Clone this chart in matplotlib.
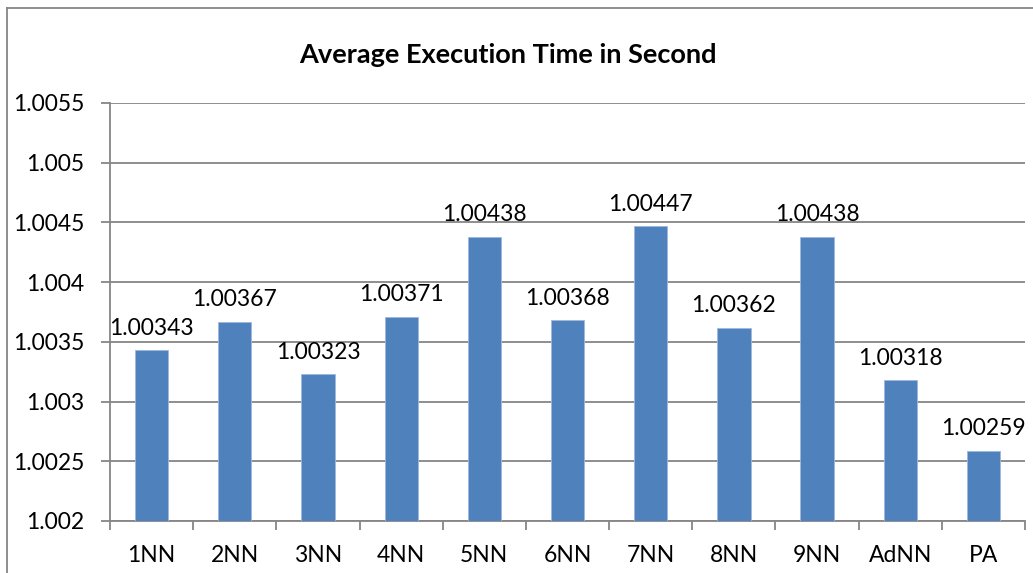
import matplotlib.pyplot as plt
from matplotlib.lines import Line2D

plt.rcParams['font.family'] = ['Lato', 'DejaVu Sans']

categorias = ['1NN', '2NN', '3NN', '4NN', '5NN', '6NN', '7NN', '8NN', '9NN', 'AdNN', 'PA']
tiempos = [1.00343, 1.00367, 1.00323, 1.00371, 1.00438, 1.00368, 1.00447, 1.00362, 1.00438, 1.00318, 1.00259]
etiquetas = ['1.00343', '1.00367', '1.00323', '1.00371', '1.00438', '1.00368',
             '1.00447', '1.00362', '1.00438', '1.00318', '1.00259']
y_ticks = [1.002, 1.0025, 1.003, 1.0035, 1.004, 1.0045, 1.005, 1.0055]

gris = '#868686'
azul = '#4F81BD'

fig = plt.figure(figsize=(10.33, 5.73), dpi=100)
ax = fig.add_axes([110 / 1033, 1 - 521 / 573, (1025 - 110) / 1033, (521 - 103) / 573])

x = list(range(len(categorias)))
ax.bar(x, [t - y_ticks[0] for t in tiempos], bottom=y_ticks[0], width=0.4,
       color=azul, edgecolor='#9DB9DD', linewidth=0.6, zorder=3)

for xi, t, txt in zip(x, tiempos, etiquetas):
    ax.annotate(txt, (xi, t), xytext=(0, 11), textcoords='offset points',
                ha='center', va='baseline', fontsize=16.5, color='black')

ax.set_xlim(-0.5, len(categorias) - 0.5)
ax.set_ylim(y_ticks[0], y_ticks[-1])
ax.set_yticks(y_ticks)
ax.set_yticklabels([f"{v:g}" for v in y_ticks], fontsize=16.5)
ax.set_xticks(x)
ax.set_xticklabels(categorias, fontsize=16.5)
ax.set_xticks([i - 0.5 for i in range(len(categorias) + 1)], minor=True)

ax.tick_params(axis='x', which='major', length=0, pad=17)
ax.tick_params(axis='x', which='minor', length=6.5, width=1.3, color=gris, direction='out')
ax.tick_params(axis='y', length=6.5, width=1.3, color=gris, direction='out', pad=12)

ax.grid(axis='y', color=gris, linewidth=1.3, zorder=0)
ax.set_axisbelow(True)
for lado in ['top', 'right']:
    ax.spines[lado].set_visible(False)
for lado in ['left', 'bottom']:
    ax.spines[lado].set_color(gris)
    ax.spines[lado].set_linewidth(1.3)

fig.text(508 / 1033, 1 - 55 / 573, 'Average Execution Time in Second',
         ha='center', va='center', fontsize=19.5, fontweight='bold')

# marco exterior del grafico
fig.add_artist(Line2D([7 / 1033, 7 / 1033], [0, 1 - 8 / 573], color=gris, linewidth=1.3))
fig.add_artist(Line2D([7 / 1033, 1], [1 - 8 / 573, 1 - 8 / 573], color=gris, linewidth=1.3))

fig.savefig('out.png', dpi=100)
